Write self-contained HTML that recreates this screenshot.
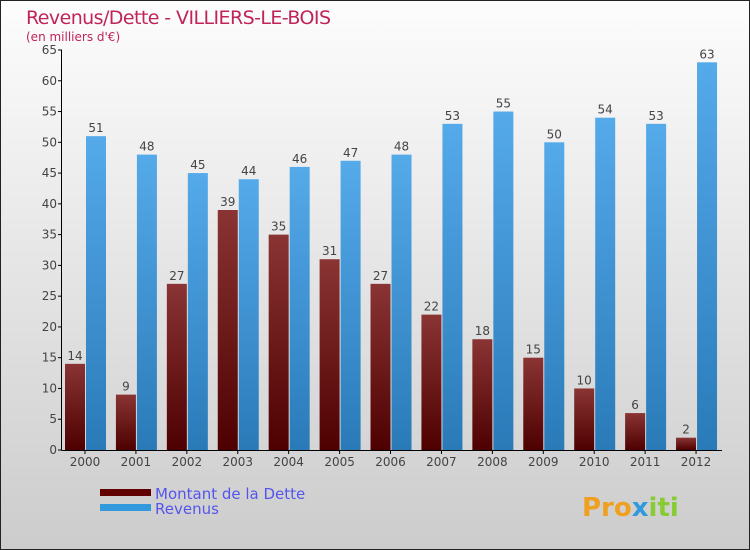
<!DOCTYPE html>
<html><head><meta charset="utf-8"><style>
body{margin:0}
svg{display:block;font-family:"DejaVu Sans","Liberation Sans",sans-serif}
</style></head><body>
<svg width="750" height="550" viewBox="0 0 750 550" xmlns="http://www.w3.org/2000/svg">
<defs>
<linearGradient id="bg" x1="0" y1="0" x2="0" y2="1"><stop offset="0" stop-color="#fdfdfd"/><stop offset="1" stop-color="#cccccc"/></linearGradient>
<linearGradient id="gd" x1="0" y1="0" x2="0" y2="1"><stop offset="0" stop-color="#8a3434"/><stop offset="1" stop-color="#4e0000"/></linearGradient>
<linearGradient id="gr" x1="0" y1="0" x2="0" y2="1"><stop offset="0" stop-color="#55aaea"/><stop offset="1" stop-color="#2a7ab8"/></linearGradient>
</defs>
<rect x="0.5" y="0.5" width="749" height="549" fill="url(#bg)" stroke="#222"/>
<text x="26" y="24" font-size="19" fill="#c0245a" textLength="305">Revenus/Dette - VILLIERS-LE-BOIS</text>
<text x="26" y="41" font-size="12" fill="#c0245a">(en milliers d'€)</text>
<g id="axes"></g>
<g id="bars"></g>
<rect x="100" y="489" width="51" height="7" fill="#600000"/>
<text x="155" y="499" font-size="15" fill="#5555ee">Montant de la Dette</text>
<rect x="100" y="504" width="51" height="7" fill="#3399dd"/>
<text x="155" y="514" font-size="15" fill="#5555ee">Revenus</text>
<text x="582" y="516" font-size="26" font-weight="bold" fill="#f0a020">Pro<tspan fill="#3399dd">x</tspan><tspan fill="#88cc33">iti</tspan></text>
</svg>
<script>
const years=["2000","2001","2002","2003","2004","2005","2006","2007","2008","2009","2010","2011","2012"];
const dette=[14,9,27,39,35,31,27,22,18,15,10,6,2];
const revenus=[51,48,45,44,46,47,48,53,55,50,54,53,63];
const yTicks=[0,5,10,15,20,25,30,35,40,45,50,55,60,65];
const NS="http://www.w3.org/2000/svg";
const y0=450,yMax=65,yTop=50;
const y=v=>y0-v*(y0-yTop)/yMax;
const xc=i=>85+i*50.92;
function mk(tag,attrs,parent,txt){const e=document.createElementNS(NS,tag);for(const k in attrs)e.setAttribute(k,attrs[k]);if(txt!==undefined)e.textContent=txt;parent.appendChild(e);return e;}
const ax=document.getElementById('axes'),bg=document.getElementById('bars');
yTicks.forEach(t=>{
  const l=mk('line',{x1:58,x2:62,y1:y(t),y2:y(t),stroke:'#000'},ax);
  
  
  const tx=mk('text',{x:57,y:y(t)+4,'font-size':12,fill:'#444','text-anchor':'end'},ax,t);
  
  
});
years.forEach((yr,i)=>{
  const c=xc(i);
  const d=mk('rect',{x:c-20,y:y(dette[i]),width:20,height:y0-y(dette[i]),fill:'url(#gd)'},bg);
  
  
  const r=mk('rect',{x:c+1,y:y(revenus[i]),width:20,height:y0-y(revenus[i]),fill:'url(#gr)'},bg);
  
  
  const dl=mk('text',{x:c-10,y:y(dette[i])-4,'font-size':12,fill:'#444','text-anchor':'middle'},bg,dette[i]);
  
  
  const rl=mk('text',{x:c+11,y:y(revenus[i])-4,'font-size':12,fill:'#444','text-anchor':'middle'},bg,revenus[i]);
  
  
  const tk=mk('line',{x1:c,x2:c,y1:y0,y2:y0+4,stroke:'#000'},ax);
  
  
  const xl=mk('text',{x:c,y:y0+16,'font-size':12,fill:'#444','text-anchor':'middle'},ax,yr);
  
  
});
const ya=mk('line',{x1:61.5,x2:61.5,y1:yTop,y2:y0,stroke:'#000'},ax);


const xa=mk('line',{x1:61.5,x2:722,y1:y0+0.5,y2:y0+0.5,stroke:'#000'},ax);


</script>
</body></html>
